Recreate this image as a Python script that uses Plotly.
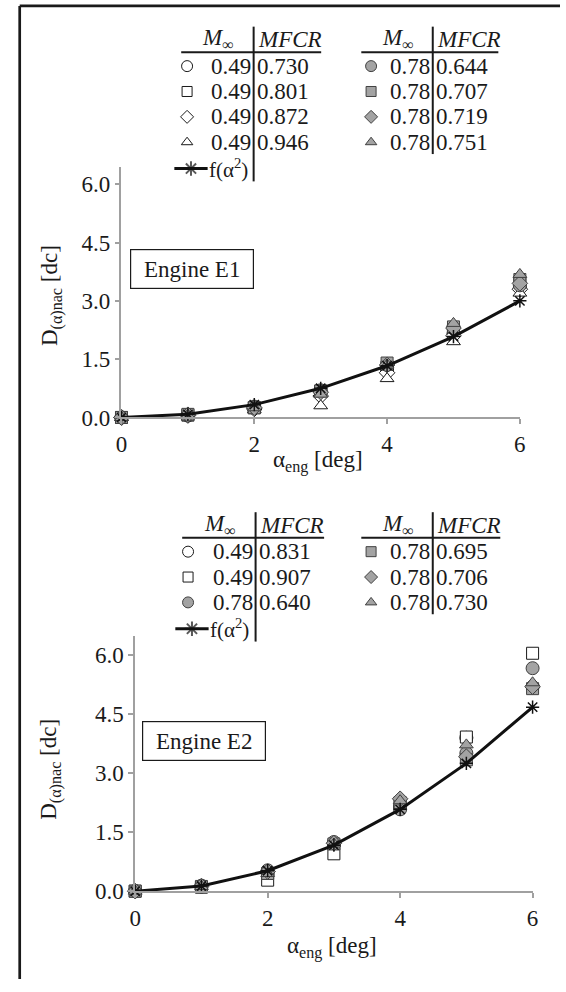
import plotly.graph_objects as go

W, H = 566, 992

# ---- data -------------------------------------------------------------
alpha = [0, 1, 2, 3, 4, 5, 6]

# Engine E1
e1_mach = ["0.49", "0.49", "0.49", "0.49", "0.78", "0.78", "0.78", "0.78"]
e1_mfcr = ["0.730", "0.801", "0.872", "0.946", "0.644", "0.707", "0.719", "0.751"]
e1_values = [
    [0, 0.05, 0.25, 0.65, 1.25, 2.15, 3.35],
    [0, 0.06, 0.25, 0.68, 1.30, 2.25, 3.45],
    [0, 0.05, 0.22, 0.55, 1.15, 2.10, 3.30],
    [0, 0.04, 0.20, 0.30, 1.00, 1.95, 3.20],
    [0, 0.07, 0.28, 0.70, 1.35, 2.30, 3.40],
    [0, 0.08, 0.25, 0.68, 1.40, 2.33, 3.55],
    [0, 0.07, 0.25, 0.65, 1.35, 2.30, 3.45],
    [0, 0.06, 0.25, 0.60, 1.35, 2.42, 3.68],
]
e1_fit = [0, 0.08, 0.33, 0.75, 1.33, 2.08, 3.00]

# Engine E2
e2_mach = ["0.49", "0.49", "0.78", "0.78", "0.78", "0.78"]
e2_mfcr = ["0.831", "0.907", "0.640", "0.695", "0.706", "0.730"]
e2_values = [
    [0, 0.12, 0.45, 1.20, 2.15, 3.90, 5.20],
    [0, 0.10, 0.28, 0.95, 2.20, 3.92, 6.05],
    [0, 0.14, 0.53, 1.25, 2.08, 3.51, 5.67],
    [0, 0.12, 0.45, 1.20, 2.25, 3.34, 5.15],
    [0, 0.13, 0.50, 1.22, 2.35, 3.42, 5.20],
    [0, 0.12, 0.45, 1.20, 2.30, 3.72, 5.30],
]
e2_fit = [0, 0.13, 0.52, 1.17, 2.08, 3.25, 4.68]

y_ticks = [0, 1.5, 3.0, 4.5, 6.0]
x_ticks = [0, 2, 4, 6]

# ---- styles -----------------------------------------------------------
FONT = "Liberation Serif"
FS = 23
INK = "#1a1a1a"
AXIS = "#a0a0a0"
GRAY = "#a3a3a3"
GRAY_EDGE = "#404040"

STYLE = {
    "circle": ("circle", 13),
    "square": ("square", 12),
    "diamond": ("diamond", 12),
    "triangle": ("triangle-up", 12),
}
e1_symbols = ["circle", "square", "diamond", "triangle"] * 2
e1_filled = [False] * 4 + [True] * 4
e2_symbols = ["circle", "square", "circle", "square", "diamond", "triangle"]
e2_filled = [False, False, True, True, True, True]


def px(x):
    return x / W


def py(y):
    return 1 - y / H


def marker(sym, filled, size=None):
    s, sz = STYLE[sym]
    return dict(
        symbol=s,
        size=size or sz,
        color=GRAY if filled else "white",
        line=dict(color=GRAY_EDGE if filled else INK, width=1),
    )


fig = go.Figure()

panels = [
    # values, fit, symbols, filled, xaxis, yaxis
    (e1_values, e1_fit, e1_symbols, e1_filled, "x", "y"),
    (e2_values, e2_fit, e2_symbols, e2_filled, "x2", "y2"),
]
for vals, fit, syms, fills, xa, ya in panels:
    for v, s, f in zip(vals, syms, fills):
        fig.add_trace(go.Scatter(
            x=alpha, y=v, mode="markers", marker=marker(s, f),
            xaxis=xa, yaxis=ya, showlegend=False, cliponaxis=False,
        ))
    fig.add_trace(go.Scatter(
        x=alpha, y=fit, mode="lines+markers",
        line=dict(color="#111111", width=3),
        marker=dict(symbol="asterisk-open", size=11,
                    line=dict(color="#111111", width=1.5)),
        xaxis=xa, yaxis=ya, showlegend=False, cliponaxis=False,
    ))

# ---- axes ---------------------------------------------------------------
axis_common = dict(
    showline=True, linecolor=AXIS, linewidth=1.5,
    ticks="outside", ticklen=5, tickcolor=AXIS, tickwidth=1.5,
    showgrid=False, zeroline=False,
    tickfont=dict(family=FONT, size=FS, color=INK),
)
fig.update_layout(
    xaxis=dict(axis_common, domain=[px(118), px(525)], range=[0, 6],
               tickvals=x_ticks, anchor="y"),
    yaxis=dict(axis_common, domain=[py(423), py(169)], range=[0, 6.45],
               tickvals=y_ticks, tickformat=".1f", anchor="x"),
    xaxis2=dict(axis_common, domain=[px(132), px(538)], range=[0, 6],
                tickvals=x_ticks, anchor="y2"),
    yaxis2=dict(axis_common, domain=[py(903), py(644)], range=[0, 6.5],
                tickvals=y_ticks, tickformat=".1f", anchor="x2"),
    # overlay in pixel coordinates for the legend tables
    xaxis3=dict(domain=[0, 1], range=[0, W], visible=False, anchor="y3"),
    yaxis3=dict(domain=[0, 1], range=[H, 0], visible=False, anchor="x3"),
)

annotations = []
shapes = []


def text(x, y, s, size=FS, anchor="left"):
    annotations.append(dict(
        x=px(x), y=py(y), xref="paper", yref="paper", text=s,
        showarrow=False, xanchor=anchor, yanchor="middle",
        font=dict(family=FONT, size=size, color=INK),
    ))


def hline(x0, x1, y, w=2):
    shapes.append(dict(type="line", xref="paper", yref="paper",
                       x0=px(x0), x1=px(x1), y0=py(y), y1=py(y),
                       line=dict(color=INK, width=w)))


def vline(x, y0, y1, w=2):
    shapes.append(dict(type="line", xref="paper", yref="paper",
                       x0=px(x), x1=px(x), y0=py(y0), y1=py(y1),
                       line=dict(color=INK, width=w)))


def legend_table(top, mach, mfcr, syms, fills, col_x, split):
    # col_x: (marker x, header line x0, x1, divider x)
    head_y = top
    row0 = top + 27
    step = 25.7
    for c, (mx, lx0, lx1, dx) in enumerate(col_x):
        idx = range(0, split) if c == 0 else range(split, len(mach))
        text(dx - 36, head_y, "<i>M</i><sub>∞</sub>", anchor="center")
        text(dx + 2, head_y, "<i>MFCR</i>")
        hline(lx0, lx1, head_y + 13)
        n = 0
        for k in idx:
            yy = row0 + n * step
            fig.add_trace(go.Scatter(
                x=[mx], y=[yy], mode="markers",
                marker=marker(syms[k], fills[k], size=STYLE[syms[k]][1] - 2),
                xaxis="x3", yaxis="y3", showlegend=False, hoverinfo="skip",
            ))
            text(dx - 1, yy, mach[k], anchor="right")
            text(dx + 1, yy, mfcr[k])
            n += 1
        bottom = row0 + (n - 1) * step + 12
        if c == 0:
            fy = row0 + n * step + 1
            fig.add_trace(go.Scatter(
                x=[mx - 13, mx + 4, mx + 21], y=[fy, fy, fy],
                mode="lines+markers",
                line=dict(color="#111111", width=3),
                marker=dict(symbol="asterisk-open", size=[0, 12, 0],
                            line=dict(color="#111111", width=2)),
                xaxis="x3", yaxis="y3", showlegend=False, hoverinfo="skip",
            ))
            text(mx + 20, fy, "f(α<sup>2</sup>)", size=21)
            bottom = fy + 13
        vline(dx, head_y - 13, bottom)


legend_table(40, e1_mach, e1_mfcr, e1_symbols, e1_filled,
             [(185, 179, 322, 253), (373, 363, 503, 436)], 4)
legend_table(532, e2_mach, e2_mfcr, e2_symbols, e2_filled,
             [(186, 180, 325, 255), (373, 363, 505, 436)], 3)

# axis titles
for cx, cy in [(319, 468), (333, 960)]:
    text(cx, cy, "α<sub>eng</sub> [deg]", anchor="center")
for cy in [300, 780]:
    annotations.append(dict(
        x=px(46), y=py(cy), xref="paper", yref="paper",
        text="D<sub>(α)nac</sub> [dc]", textangle=-90, showarrow=False,
        xanchor="center", yanchor="middle",
        font=dict(family=FONT, size=FS, color=INK),
    ))

# engine labels
for cx, cy, label in [(190, 273, "Engine E1"), (202, 751, "Engine E2")]:
    annotations.append(dict(
        x=px(cx), y=py(cy), xref="paper", yref="paper", text=label,
        showarrow=False, xanchor="center", yanchor="middle",
        width=110, height=26, borderpad=6,
        bordercolor=INK, borderwidth=1.2, bgcolor="white",
        font=dict(family=FONT, size=FS, color=INK),
    ))

# outer frame (only top and left edges are inside the picture)
shapes.append(dict(type="line", xref="paper", yref="paper",
                   x0=px(14), x1=1.0, y0=py(6), y1=py(6),
                   line=dict(color=INK, width=2.7)))
shapes.append(dict(type="line", xref="paper", yref="paper",
                   x0=px(14), x1=px(14), y0=py(6), y1=0,
                   line=dict(color=INK, width=2.7)))

fig.update_layout(
    width=W, height=H,
    margin=dict(l=0, r=0, t=0, b=0),
    paper_bgcolor="white", plot_bgcolor="rgba(0,0,0,0)",
    annotations=annotations, shapes=shapes,
    showlegend=False,
)

# drop the default page margin so the figure sits at the window's corner
fig.write_html(
    "out.html",
    config={"displayModeBar": False},
    post_script="document.body.style.margin='0';"
                "document.body.style.overflow='hidden';",
)
